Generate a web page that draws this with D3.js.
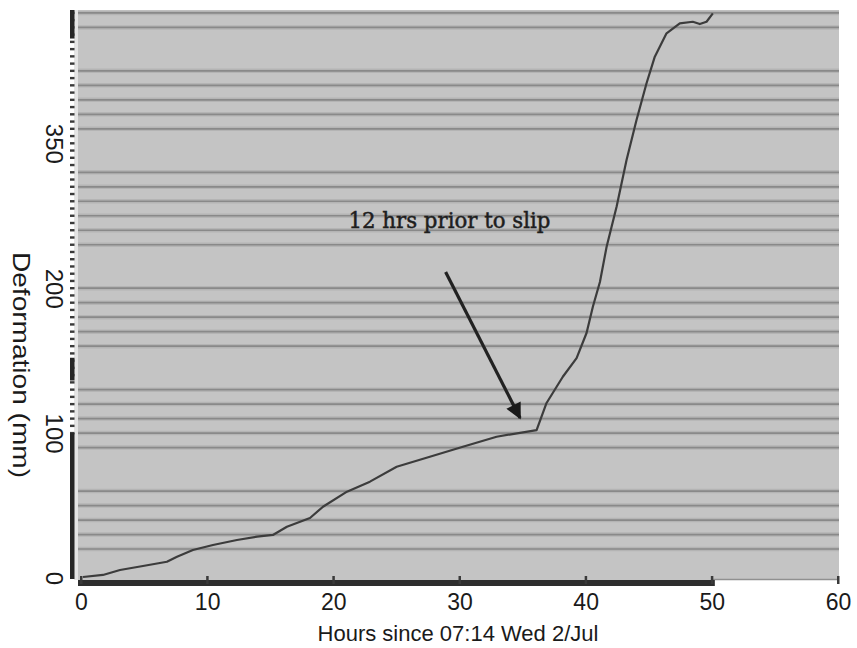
<!DOCTYPE html>
<html>
<head>
<meta charset="utf-8">
<script src="https://cdn.jsdelivr.net/npm/d3@7"></script>
<style>
  body { margin: 0; background: #fff; }
  svg { display: block; }
</style>
</head>
<body>
<svg id="chart" width="857" height="648"></svg>
<script>
// Deformation record (hours since start, deformation in mm)
const hours = [0.16, 1.74, 3.09, 4.91, 6.81, 7.61, 8.87, 10.46, 12.36, 13.95, 15.21, 16.32,
  18.15, 19.18, 21.08, 22.9, 25.02, 27.65, 30.27, 32.94, 36.11, 36.9, 38.19, 39.28,
  40.07, 40.57, 41.13, 41.66, 42.45, 43.24, 44.03, 44.83, 45.48, 46.41, 47.46, 48.49,
  49.05, 49.58, 50.08];
const deformation = [0.7, 2.1, 5.5, 8.3, 11.2, 14.7, 19.3, 22.8, 26.2, 28.5, 29.7, 35.4,
  41.4, 49.2, 59.6, 66.5, 76.8, 83.7, 90.6, 97.5, 102.1, 120.8, 138.9, 151.8,
  169.1, 187.2, 204.3, 228.6, 256.2, 288.5, 316.1, 341.6, 359.8, 375.9, 382.8, 383.9,
  382.3, 383.9, 389.7];

// Axis ticks
const xTickValues = [0, 10, 20, 30, 40, 50, 60];
const yTickValues = [0, 100, 200, 300];
const yTickLabels = ["0", "100", "200", "350"];

// Horizontal rules across the plot (mm)
const gridValues = [20, 30, 40, 50, 60, 90, 100, 110, 120, 130, 160, 170, 180, 190, 200,
  230, 240, 250, 260, 270, 280, 310, 320, 330, 340, 350, 380, 390];

// Annotation: label and arrow pointing at the onset of acceleration
const noteText = "12 hrs prior to slip";
const notePos = [21.2, 241.5];
const arrowFrom = [28.9, 211.2];
const arrowTo = [34.8, 110.4];

const xTitle = "Hours since 07:14 Wed 2/Jul";
const yTitle = "Deformation (mm)";

const svg = d3.select("#chart");

const x = d3.scaleLinear().domain([0, 60]).range([81, 838]);
const y = d3.scaleLinear().domain([0, 392]).range([578, 10]);

const plotLeft = 78, plotRight = 839, plotTop = 10, plotBottom = 580;

// plot background
svg.append("rect")
  .attr("x", plotLeft).attr("y", plotTop)
  .attr("width", plotRight - plotLeft).attr("height", plotBottom - plotTop)
  .attr("fill", "#c4c4c4");

// rules: soft band plus darker core
const grid = svg.append("g");
grid.selectAll("line.band").data(gridValues).join("line")
  .attr("class", "band")
  .attr("x1", plotLeft).attr("x2", plotRight)
  .attr("y1", d => y(d)).attr("y2", d => y(d))
  .attr("stroke", "#b4b4b4").attr("stroke-width", 4.5);
grid.selectAll("line.core").data(gridValues).join("line")
  .attr("class", "core")
  .attr("x1", plotLeft).attr("x2", plotRight)
  .attr("y1", d => y(d)).attr("y2", d => y(d))
  .attr("stroke", "#898989").attr("stroke-width", 1.7);

// light strip between the y axis and the plot
svg.append("rect")
  .attr("x", 74).attr("y", plotTop).attr("width", 4).attr("height", plotBottom - plotTop)
  .attr("fill", "#e4e4e4");

// y axis: solid segments and dashed minor marks
const yAxisX = 70, yAxisW = 4.5;
const minor = d3.range(100, 392, 5);
svg.append("g").selectAll("rect").data(minor).join("rect")
  .attr("x", yAxisX).attr("y", d => y(d) - 1.2)
  .attr("width", yAxisW).attr("height", 2.4)
  .attr("fill", "#3a3a3a");
const solidSegs = [[0, 100], [137, 152], [373, 392]];
svg.append("g").selectAll("rect").data(solidSegs).join("rect")
  .attr("x", yAxisX).attr("y", d => y(d[1]))
  .attr("width", yAxisW).attr("height", d => y(d[0]) - y(d[1]) + 1)
  .attr("fill", "#262626");

// y tick labels, rotated clockwise
const yAxis = svg.append("g")
  .attr("transform", `translate(${yAxisX},0)`)
  .call(d3.axisLeft(y).tickValues(yTickValues)
    .tickFormat((d, i) => yTickLabels[i]).tickSize(0));
yAxis.select(".domain").remove();
yAxis.selectAll("text")
  .attr("x", null).attr("dy", null)
  .attr("text-anchor", "middle")
  .attr("dominant-baseline", "central")
  .attr("transform", "translate(-16,0) rotate(90)")
  .attr("fill", "#1a1a1a")
  .style("font-family", "'Liberation Sans', Arial, sans-serif")
  .style("font-size", "24px");

// x axis: heavy bar up to the last record, thin rule beyond
svg.append("line")
  .attr("x1", x(50)).attr("x2", plotRight)
  .attr("y1", plotBottom - 0.5).attr("y2", plotBottom - 0.5)
  .attr("stroke", "#909090").attr("stroke-width", 1.5);
svg.append("rect")
  .attr("x", plotLeft).attr("y", plotBottom)
  .attr("width", x(50) + 3 - plotLeft).attr("height", 6)
  .attr("fill", "#2e2e2e");
svg.append("g").selectAll("rect").data(xTickValues).join("rect")
  .attr("x", d => x(d) - 1).attr("y", plotBottom - 4)
  .attr("width", 2.5).attr("height", 8)
  .attr("fill", "#3a3a3a");

const xAxis = svg.append("g")
  .attr("transform", `translate(0,${plotBottom + 6})`)
  .call(d3.axisBottom(x).tickValues(xTickValues).tickSize(0).tickPadding(8));
xAxis.select(".domain").remove();
xAxis.selectAll("text")
  .attr("fill", "#1a1a1a")
  .style("font-family", "'Liberation Sans', Arial, sans-serif")
  .style("font-size", "23px");

// deformation curve
const pts = hours.map((h, i) => [h, deformation[i]]);
svg.append("path")
  .datum(pts)
  .attr("d", d3.line().x(d => x(d[0])).y(d => y(d[1])))
  .attr("fill", "none")
  .attr("stroke", "#3c3c3c")
  .attr("stroke-width", 2.2)
  .attr("stroke-linejoin", "round");

// annotation
svg.append("text")
  .attr("x", x(notePos[0])).attr("y", y(notePos[1]))
  .attr("fill", "#1e1e1e")
  .attr("stroke", "#1e1e1e").attr("stroke-width", 0.5)
  .attr("textLength", 202).attr("lengthAdjust", "spacingAndGlyphs")
  .style("font-family", "'DejaVu Serif', 'Liberation Serif', serif")
  .style("font-size", "22px")
  .text(noteText);

svg.append("defs").append("marker")
  .attr("id", "head")
  .attr("viewBox", "0 0 10 10")
  .attr("refX", 9).attr("refY", 5)
  .attr("markerWidth", 6.5).attr("markerHeight", 5)
  .attr("markerUnits", "strokeWidth")
  .attr("orient", "auto")
  .append("path").attr("d", "M0,0 L10,5 L0,10 Z").attr("fill", "#1a1a1a");

svg.append("line")
  .attr("x1", x(arrowFrom[0])).attr("y1", y(arrowFrom[1]))
  .attr("x2", x(arrowTo[0])).attr("y2", y(arrowTo[1]))
  .attr("stroke", "#222").attr("stroke-width", 3.2)
  .attr("marker-end", "url(#head)");

// axis titles
svg.append("text")
  .attr("x", 458).attr("y", 641)
  .attr("text-anchor", "middle")
  .attr("fill", "#1a1a1a")
  .style("font-family", "'Liberation Sans', Arial, sans-serif")
  .style("font-size", "22px")
  .text(xTitle);

svg.append("text")
  .attr("transform", "translate(21,365) rotate(90)")
  .attr("text-anchor", "middle")
  .attr("dominant-baseline", "central")
  .attr("textLength", 226).attr("lengthAdjust", "spacingAndGlyphs")
  .attr("fill", "#1a1a1a")
  .style("font-family", "'Liberation Sans', Arial, sans-serif")
  .style("font-size", "24px")
  .text(yTitle);
</script>
</body>
</html>
